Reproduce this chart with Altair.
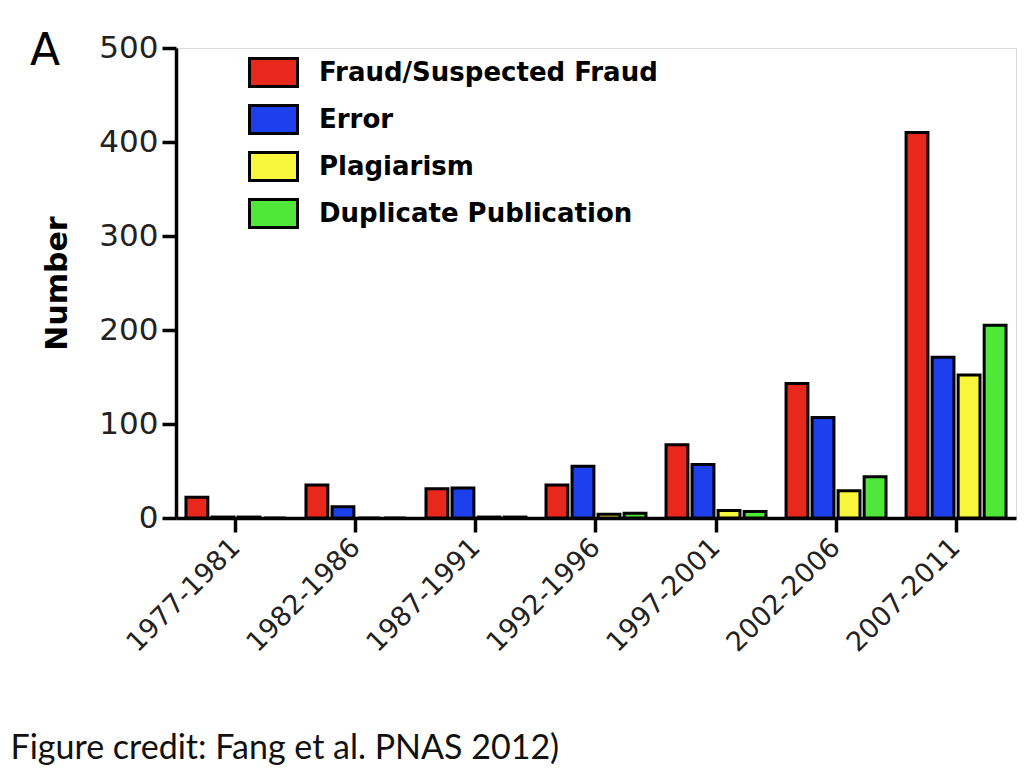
import altair as alt
import pandas as pd

periods = ["1977-1981", "1982-1986", "1987-1991", "1992-1996",
           "1997-2001", "2002-2006", "2007-2011"]
categories = ["Fraud/Suspected Fraud", "Error", "Plagiarism", "Duplicate Publication"]
fraud = [22, 35, 31, 35, 78, 143, 410]
error = [1, 12, 32, 55, 57, 107, 171]
plagiarism = [1, 0, 1, 4, 8, 29, 152]
duplicate = [0, 0, 1, 5, 7, 44, 205]
colors = ["#e8281c", "#1d40ec", "#f7f53c", "#4fe83a"]
y_ticks = [0, 100, 200, 300, 400, 500]

rows = []
for cat, vals in zip(categories, [fraud, error, plagiarism, duplicate]):
    for p, v in zip(periods, vals):
        rows.append({"Period": p, "Category": cat, "Number": v})
df = pd.DataFrame(rows)

FONT = "DejaVu Sans"

chart = alt.Chart(df).mark_bar(stroke="black", strokeWidth=3).encode(
    x=alt.X(
        "Period:N", sort=periods,
        scale=alt.Scale(paddingInner=0.167, paddingOuter=0.083),
        axis=alt.Axis(
            title="Figure credit: Fang et al. PNAS 2012)",
            titleFont="Lato", titleFontSize=34, titleFontWeight="normal",
            titleColor="#111111", titleAnchor="start", titleAlign="left",
            titleBaseline="alphabetic", titleX=-166, titleY=240,
            labelAngle=-45, labelAlign="right", labelBaseline="middle",
            labelFont=FONT, labelFontSize=27, labelColor="#222222",
            labelPadding=11, tickSize=14, tickWidth=3.5, tickColor="black",
            domainWidth=3.5, domainColor="black", labelOverlap=False,
        ),
    ),
    xOffset=alt.XOffset("Category:N", sort=categories,
                        scale=alt.Scale(paddingInner=0.16, paddingOuter=0)),
    y=alt.Y(
        "Number:Q",
        scale=alt.Scale(domain=[0, 500], nice=False),
        axis=alt.Axis(
            values=y_ticks, title="Number", titleFont=FONT, titleFontSize=30,
            titleFontWeight="bold", titleColor="black", titlePadding=26,
            labelFont=FONT, labelFontSize=31, labelColor="#222222",
            labelPadding=4, tickSize=14, tickWidth=3.5, tickColor="black",
            domainWidth=3.5, domainColor="black", grid=False,
        ),
    ),
    color=alt.Color(
        "Category:N", sort=categories,
        scale=alt.Scale(domain=categories, range=colors),
        legend=alt.Legend(
            title=None, orient="none", legendX=72, legendY=-1,
            symbolType="M-1,-0.58H1V0.58H-1Z", symbolSize=2304,
            symbolStrokeColor="black", symbolStrokeWidth=3, symbolOpacity=1,
            labelFont=FONT, labelFontSize=26, labelFontWeight="bold",
            labelColor="black", labelOffset=20, labelLimit=600,
            rowPadding=1, padding=0,
        ),
    ),
).properties(
    width=840, height=470,
    autosize=alt.AutoSizeParams(type="none"),
    padding={"left": 168, "top": 40, "right": 2, "bottom": 256},
    title=alt.TitleParams(
        text="A", anchor="start", frame="group", font=FONT, fontSize=44,
        fontWeight="normal", color="black", dx=-146, dy=42, offset=0,
    ),
).configure_view(stroke=None).configure(background="white")

chart.save("out.html", embed_options={"renderer": "svg", "actions": False})
